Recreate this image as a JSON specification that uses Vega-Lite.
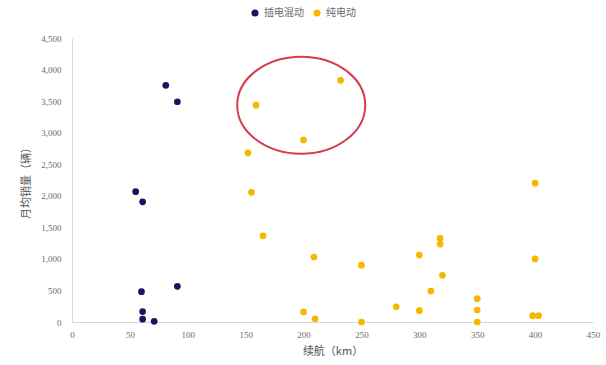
{
  "$schema": "https://vega.github.io/schema/vega-lite/v6.json",
  "width": 521,
  "height": 284,
  "autosize": {"type": "none"},
  "padding": {"left": 72, "top": 38, "right": 13, "bottom": 43},
  "background": "white",
  "config": {
    "view": {"stroke": null},
    "font": "Noto Sans CJK SC",
    "axis": {
      "grid": false,
      "ticks": false,
      "domainColor": "#d9d9d9",
      "domainWidth": 1,
      "labelColor": "#6b6b6b",
      "labelFont": "Liberation Serif",
      "labelFontSize": 9,
      "labelOverlap": false,
      "labelFlush": false,
      "titleColor": "#555555",
      "titleFont": "Noto Sans CJK SC",
      "titleFontSize": 11,
      "titleFontWeight": "normal"
    }
  },
  "encoding": {
    "x": {
      "field": "range", "type": "quantitative",
      "scale": {"domain": [0, 450], "nice": false, "zero": true},
      "axis": {"values": [0, 50, 100, 150, 200, 250, 300, 350, 400, 450], "labelPadding": 8, "title": "续航（km）", "titlePadding": 6}
    },
    "y": {
      "field": "sales", "type": "quantitative",
      "scale": {"domain": [0, 4500], "nice": false},
      "axis": {"values": [0, 500, 1000, 1500, 2000, 2500, 3000, 3500, 4000, 4500], "format": ",d", "labelPadding": 11, "title": "月均销量（辆）", "titlePadding": 9}
    }
  },
  "layer": [
    {
      "data": {
        "values": [
          {"type": "插电混动", "range": 81, "sales": 3750},
          {"type": "插电混动", "range": 91, "sales": 3490},
          {"type": "插电混动", "range": 55, "sales": 2065},
          {"type": "插电混动", "range": 61, "sales": 1905},
          {"type": "插电混动", "range": 60, "sales": 480},
          {"type": "插电混动", "range": 91, "sales": 565},
          {"type": "插电混动", "range": 61, "sales": 165},
          {"type": "插电混动", "range": 61, "sales": 45},
          {"type": "插电混动", "range": 71, "sales": 10},
          {"type": "纯电动", "range": 232, "sales": 3830},
          {"type": "纯电动", "range": 159, "sales": 3435},
          {"type": "纯电动", "range": 200, "sales": 2885},
          {"type": "纯电动", "range": 152, "sales": 2680},
          {"type": "纯电动", "range": 155, "sales": 2055},
          {"type": "纯电动", "range": 165, "sales": 1365},
          {"type": "纯电动", "range": 209, "sales": 1030},
          {"type": "纯电动", "range": 250, "sales": 900},
          {"type": "纯电动", "range": 200, "sales": 160},
          {"type": "纯电动", "range": 210, "sales": 50},
          {"type": "纯电动", "range": 250, "sales": 0},
          {"type": "纯电动", "range": 400, "sales": 2200},
          {"type": "纯电动", "range": 318, "sales": 1325},
          {"type": "纯电动", "range": 318, "sales": 1235},
          {"type": "纯电动", "range": 300, "sales": 1060},
          {"type": "纯电动", "range": 400, "sales": 1000},
          {"type": "纯电动", "range": 320, "sales": 740},
          {"type": "纯电动", "range": 310, "sales": 490},
          {"type": "纯电动", "range": 280, "sales": 240},
          {"type": "纯电动", "range": 300, "sales": 180},
          {"type": "纯电动", "range": 350, "sales": 370},
          {"type": "纯电动", "range": 350, "sales": 190},
          {"type": "纯电动", "range": 350, "sales": 0},
          {"type": "纯电动", "range": 398, "sales": 100},
          {"type": "纯电动", "range": 403, "sales": 100}
        ]
      },
      "mark": {"type": "point", "filled": true, "opacity": 1, "size": 45, "shape": "circle"},
      "encoding": {
        "color": {
          "field": "type", "type": "nominal",
          "scale": {"domain": ["插电混动", "纯电动"], "range": ["#16165c", "#f5b700"]},
          "legend": {
            "title": null,
            "orient": "none",
            "direction": "horizontal",
            "legendX": 178,
            "legendY": -30,
            "symbolType": "circle",
            "symbolSize": 50,
            "labelFont": "Noto Sans CJK SC",
            "labelFontSize": 10,
            "labelColor": "#6b6b6b",
            "labelOffset": 4,
            "columnPadding": 8
          }
        }
      }
    },
    {
      "data": {"values": [{"range": 198, "sales": 3435}]},
      "mark": {
        "type": "point",
        "filled": false,
        "shape": "M -1.32 0 A 1.32 1 0 1 1 1.32 0 A 1.32 1 0 1 1 -1.32 0 Z",
        "size": 9409,
        "stroke": "#d63c4c",
        "strokeWidth": 2,
        "opacity": 1
      }
    }
  ]
}
